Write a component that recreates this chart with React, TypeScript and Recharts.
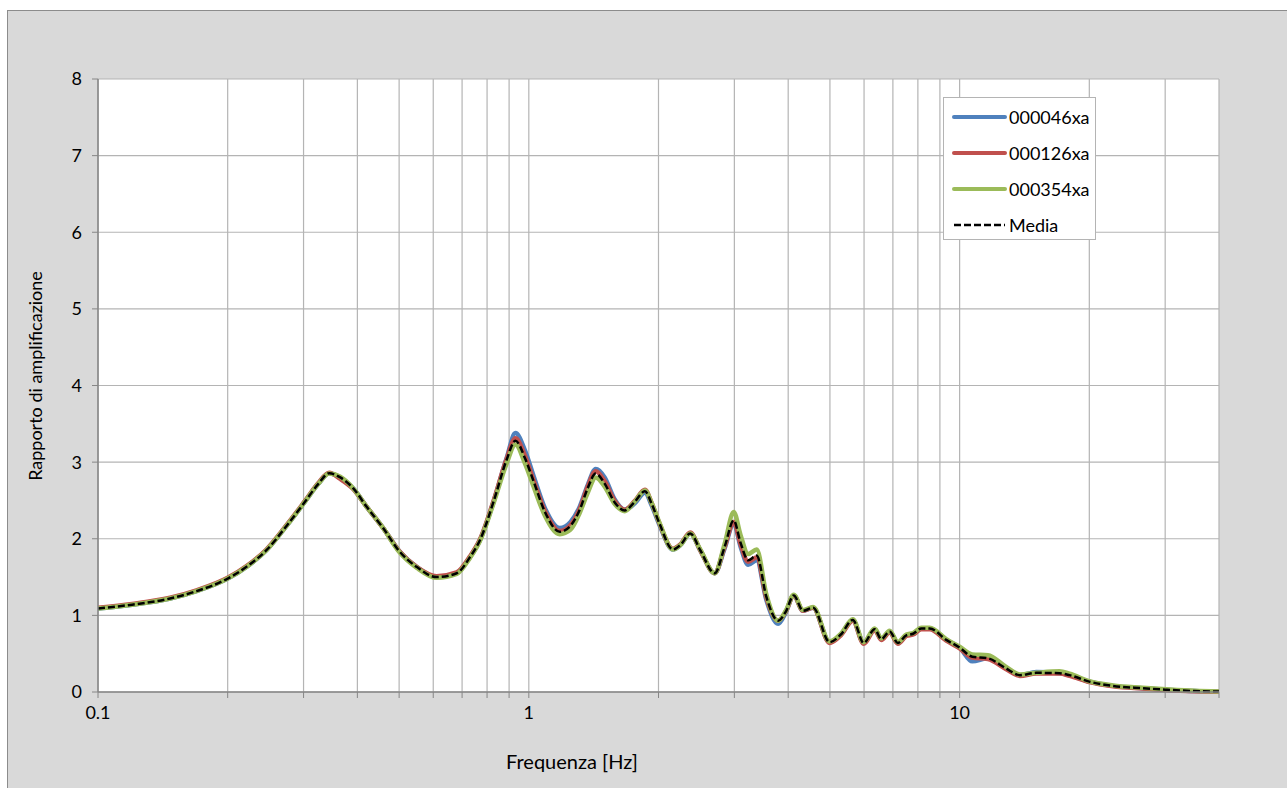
import { LineChart, Line, XAxis, YAxis, CartesianGrid, Legend } from 'recharts';

// frequenze [Hz]
const freq = [
  0.1, 0.12, 0.147, 0.17, 0.2, 0.222, 0.246, 0.275, 0.302, 0.325,
  0.344, 0.365, 0.391, 0.42, 0.459, 0.5, 0.55, 0.611, 0.68, 0.73,
  0.77, 0.83, 0.888, 0.931, 0.98, 1.023, 1.09, 1.18, 1.25, 1.313,
  1.37, 1.43, 1.5, 1.58, 1.67, 1.76, 1.86, 1.93, 2.01, 2.16,
  2.25, 2.37, 2.5, 2.7, 2.85, 2.99, 3.1, 3.23, 3.38, 3.56,
  3.79, 3.95, 4.12, 4.33, 4.57, 4.99, 5.3, 5.65, 5.99, 6.35,
  6.58, 6.88, 7.19, 7.52, 7.8, 8.15, 8.52, 9.31, 10, 10.7,
  11.63, 12.8, 13.8, 15.06, 17.06, 18, 20, 22.7, 26.6, 30.2,
  35.1, 40,
];

const s000046xa = [
  1.09, 1.14, 1.22, 1.32, 1.48, 1.64, 1.85, 2.18, 2.48, 2.72,
  2.855, 2.8, 2.66, 2.42, 2.14, 1.84, 1.63, 1.5, 1.55, 1.76,
  1.98, 2.5, 3.05, 3.38, 3.15, 2.84, 2.4, 2.14, 2.22, 2.42,
  2.7, 2.91, 2.8, 2.52, 2.38, 2.46, 2.6, 2.43, 2.18, 1.86,
  1.92, 2.07, 1.85, 1.55, 1.88, 2.2, 1.9, 1.66, 1.72, 1.2,
  0.89, 1.04, 1.26, 1.06, 1.1, 0.65, 0.75, 0.94, 0.64, 0.82,
  0.69, 0.79, 0.64, 0.74, 0.76, 0.83, 0.83, 0.68, 0.58, 0.4,
  0.44, 0.31, 0.22, 0.26, 0.245, 0.22, 0.135, 0.08, 0.05, 0.03,
  0.012, 0.005,
];

const s000126xa = [
  1.1, 1.15, 1.23, 1.33, 1.49, 1.65, 1.86, 2.19, 2.49, 2.73,
  2.86, 2.78, 2.65, 2.42, 2.14, 1.84, 1.63, 1.51, 1.56, 1.77,
  1.99, 2.51, 3.04, 3.31, 3.08, 2.78, 2.36, 2.1, 2.18, 2.39,
  2.68, 2.88, 2.75, 2.5, 2.38, 2.49, 2.64, 2.46, 2.2, 1.87,
  1.93, 2.08, 1.85, 1.55, 1.9, 2.22, 1.93, 1.7, 1.76, 1.23,
  0.93, 1.05, 1.26, 1.06, 1.1, 0.64, 0.74, 0.93, 0.63, 0.81,
  0.68, 0.78, 0.63, 0.73, 0.75, 0.82, 0.82, 0.67, 0.57, 0.45,
  0.43, 0.3, 0.21, 0.24, 0.24, 0.21, 0.13, 0.075, 0.045, 0.025,
  0.01, 0.004,
];

const s000354xa = [
  1.09, 1.14, 1.22, 1.32, 1.48, 1.64, 1.85, 2.18, 2.48, 2.72,
  2.85, 2.81, 2.66, 2.42, 2.14, 1.83, 1.62, 1.49, 1.54, 1.75,
  1.97, 2.48, 2.98, 3.23, 2.98, 2.7, 2.3, 2.06, 2.12, 2.34,
  2.6, 2.8, 2.68, 2.46, 2.36, 2.48, 2.63, 2.46, 2.21, 1.86,
  1.92, 2.07, 1.86, 1.55, 1.94, 2.35, 2.05, 1.8, 1.86, 1.27,
  0.93, 1.06, 1.27, 1.07, 1.11, 0.66, 0.76, 0.95, 0.65, 0.83,
  0.7, 0.8, 0.65, 0.75, 0.77, 0.84, 0.84, 0.69, 0.59, 0.49,
  0.48, 0.33, 0.23, 0.25, 0.27, 0.24, 0.14, 0.085, 0.055, 0.035,
  0.015, 0.006,
];

const media = [
  1.09, 1.14, 1.22, 1.32, 1.48, 1.64, 1.85, 2.18, 2.48, 2.72,
  2.855, 2.8, 2.66, 2.42, 2.14, 1.84, 1.63, 1.5, 1.55, 1.76,
  1.98, 2.5, 3.03, 3.28, 3.05, 2.77, 2.35, 2.09, 2.17, 2.38,
  2.66, 2.85, 2.72, 2.48, 2.37, 2.48, 2.62, 2.45, 2.2, 1.86,
  1.92, 2.07, 1.85, 1.55, 1.9, 2.24, 1.95, 1.72, 1.78, 1.24,
  0.93, 1.05, 1.26, 1.06, 1.1, 0.65, 0.75, 0.94, 0.64, 0.82,
  0.69, 0.79, 0.64, 0.74, 0.76, 0.83, 0.83, 0.68, 0.58, 0.46,
  0.44, 0.31, 0.22, 0.25, 0.245, 0.22, 0.135, 0.08, 0.05, 0.03,
  0.012, 0.005,
];

const xTicks = [
  0.1, 0.2, 0.3, 0.4, 0.5, 0.6, 0.7, 0.8, 0.9,
  1, 2, 3, 4, 5, 6, 7, 8, 9,
  10, 20, 30, 40,
];
const xLabels: Record<string, string> = { '0.1': '0.1', '1': '1', '10': '10' };
const yTicks = [0, 1, 2, 3, 4, 5, 6, 7, 8];

const SERIES = [
  { key: 's046', name: '000046xa', color: '#4f81bd', dash: undefined as string | undefined },
  { key: 's126', name: '000126xa', color: '#c0504d', dash: undefined as string | undefined },
  { key: 's354', name: '000354xa', color: '#9bbb59', dash: undefined as string | undefined },
  { key: 'media', name: 'Media', color: '#000000', dash: '7 3' },
];

const FONT = 'Lato, "DejaVu Sans", sans-serif';

function LegendBox() {
  return (
    <div
      style={{
        width: 153,
        height: 143,
        background: '#fff',
        border: '1px solid #b4b4b4',
        boxSizing: 'border-box',
        paddingTop: 1,
        fontFamily: FONT,
        fontSize: 18,
        color: '#000',
      }}
    >
      {SERIES.map((s) => (
        <div key={s.key} style={{ display: 'flex', alignItems: 'center', height: 36 }}>
          <svg width={64} height={10} style={{ marginLeft: 8 }}>
            <line
              x1={2}
              x2={53}
              y1={5}
              y2={5}
              stroke={s.color}
              strokeWidth={s.dash ? 2.5 : 4}
              strokeDasharray={s.dash}
              strokeLinecap={s.dash ? 'butt' : 'round'}
            />
          </svg>
          <span style={{ marginLeft: -7 }}>{s.name}</span>
        </div>
      ))}
    </div>
  );
}

export default function App() {
  const data = freq.map((f, i) => ({
    f,
    s046: s000046xa[i],
    s126: s000126xa[i],
    s354: s000354xa[i],
    media: media[i],
  }));

  return (
    <div style={{ position: 'absolute', left: 0, top: 0, width: 1287, height: 788, background: '#fff', overflow: 'hidden' }}>
      <div
        style={{
          position: 'absolute',
          left: 7,
          top: 10,
          width: 1280,
          height: 778,
          background: '#d9d9d9',
          borderLeft: '1px solid #8c8c8c',
          borderTop: '1px solid #8c8c8c',
        }}
      />
      <div style={{ position: 'absolute', left: 0, top: 0 }}>
        <LineChart
          width={1287}
          height={788}
          data={data}
          margin={{ top: 79, right: 68, bottom: 66, left: 38 }}
        >
          <CartesianGrid stroke="#b4b4b4" strokeWidth={1.2} fill="#fff" />
          <XAxis
            dataKey="f"
            type="number"
            scale="log"
            domain={[0.1, 40]}
            ticks={xTicks}
            allowDataOverflow
            height={30}
            interval={0}
            tickSize={6}
            tickMargin={8}
            tickFormatter={(v: number) => xLabels[String(v)] ?? ''}
            tick={{ fontSize: 18, fill: '#000', fontFamily: FONT }}
            axisLine={{ stroke: '#868686', strokeWidth: 1.5 }}
            tickLine={{ stroke: '#868686' }}
          />
          <YAxis
            type="number"
            domain={[0, 8]}
            ticks={yTicks}
            interval={0}
            width={60}
            tickSize={6}
            tickMargin={10}
            tick={{ fontSize: 18, fill: '#000', fontFamily: FONT }}
            axisLine={{ stroke: '#868686', strokeWidth: 1.5 }}
            tickLine={{ stroke: '#868686' }}
          />
          <Legend
            layout="vertical"
            align="center"
            verticalAlign="middle"
            wrapperStyle={{ left: 943, top: 97, width: 153 }}
            content={() => <LegendBox />}
          />
          {SERIES.map((s) => (
            <Line
              key={s.key}
              type="monotone"
              dataKey={s.key}
              name={s.name}
              stroke={s.color}
              strokeWidth={s.dash ? 2.5 : 4.5}
              strokeDasharray={s.dash}
              dot={false}
              activeDot={false}
              isAnimationActive={false}
            />
          ))}
        </LineChart>
      </div>
      <div
        style={{
          position: 'absolute',
          left: 35,
          top: 376,
          transform: 'translate(-50%, -50%) rotate(-90deg)',
          whiteSpace: 'nowrap',
          fontFamily: FONT,
          fontSize: 18,
          color: '#000',
        }}
      >
        Rapporto di amplificazione
      </div>
      <div
        style={{
          position: 'absolute',
          left: 572,
          top: 761,
          transform: 'translate(-50%, -50%)',
          whiteSpace: 'nowrap',
          fontFamily: FONT,
          fontSize: 20,
          color: '#000',
        }}
      >
        Frequenza [Hz]
      </div>
    </div>
  );
}
